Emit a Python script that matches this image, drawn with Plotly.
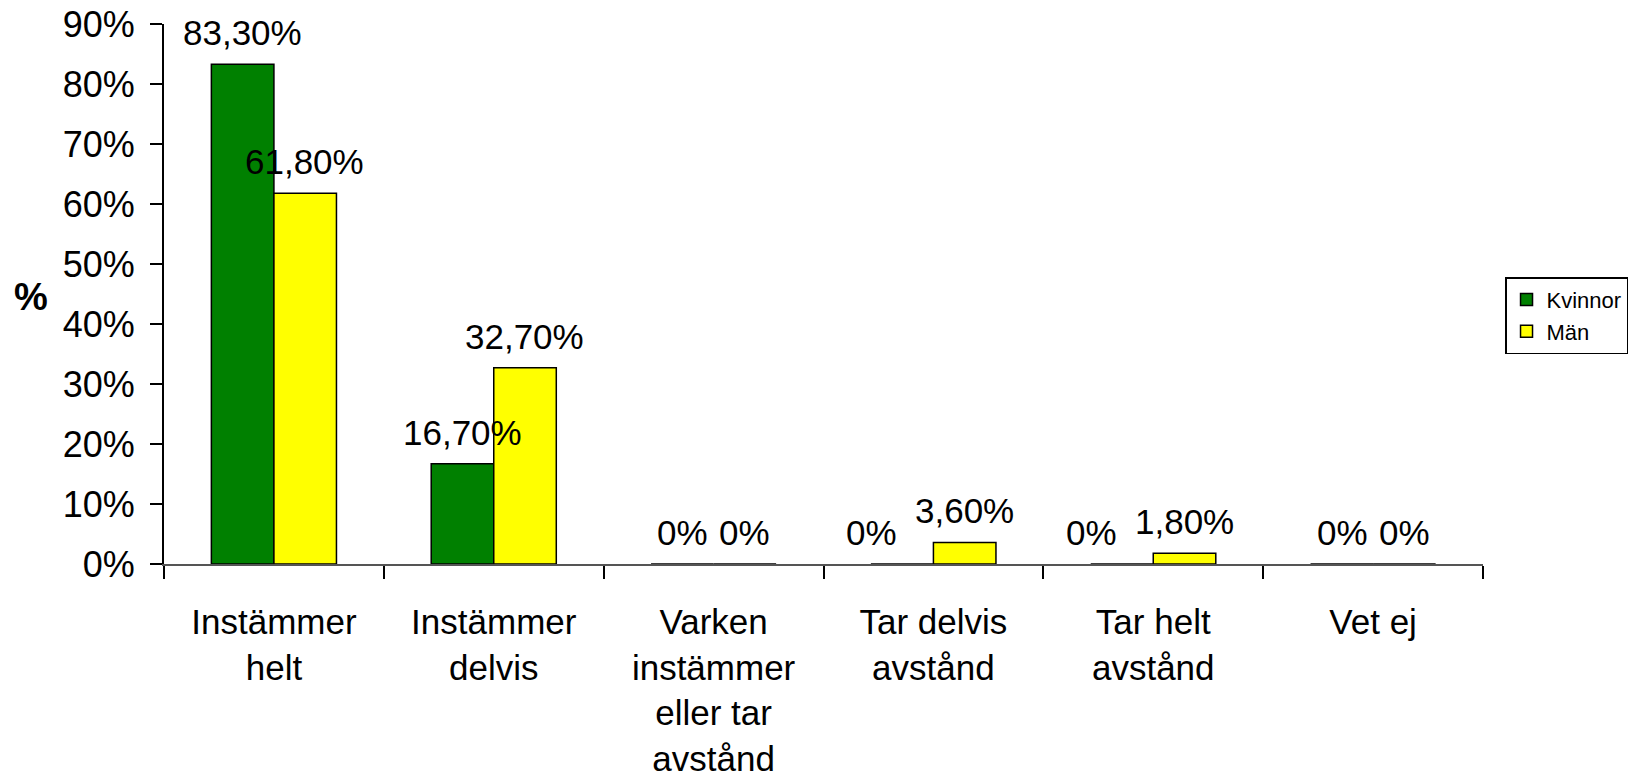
import plotly.graph_objects as pgo

categories = ["Instämmer<br>helt", "Instämmer<br>delvis", "Varken<br>instämmer<br>eller tar<br>avstånd",
              "Tar delvis<br>avstånd", "Tar helt<br>avstånd", "Vet ej"]
kvinnor = [83.3, 16.7, 0, 0, 0, 0]
man = [61.8, 32.7, 0, 3.6, 1.8, 0]
y_ticks = [0, 10, 20, 30, 40, 50, 60, 70, 80, 90]


def label(v):
    if v == 0:
        return "0%"
    return f"{v:.2f}%".replace(".", ",")


font = "Liberation Sans, Arial, sans-serif"

fig = pgo.Figure()
fig.add_trace(pgo.Bar(x=categories, y=kvinnor, name="Kvinnor",
                      marker=dict(color="#008000", line=dict(color="black", width=1.5))))
fig.add_trace(pgo.Bar(x=categories, y=man, name="Män",
                      marker=dict(color="#FFFF00", line=dict(color="black", width=1.5))))

# data labels, placed like Excel does (green zero labels nudged left when crowded)
for i, cat in enumerate(categories):
    for vals, dx in ((kvinnor, -31), (man, 31)):
        shift = dx
        if vals is kvinnor and vals[i] == 0 and man[i] > 0:
            shift = -62
        fig.add_annotation(x=cat, y=vals[i], text=label(vals[i]), showarrow=False,
                           xshift=shift, yshift=10, yanchor="bottom", xanchor="center",
                           font=dict(size=35, color="black", family=font))

fig.add_annotation(text="<b>%</b>", xref="paper", yref="paper", x=-0.1008, y=0.494,
                   xanchor="center", yanchor="middle",
                   showarrow=False, font=dict(size=38, color="black", family=font))

fig.update_layout(
    width=1634, height=777,
    margin=dict(l=164, r=151, t=24, b=213, autoexpand=False),
    paper_bgcolor="white", plot_bgcolor="white",
    barmode="group", bargap=0.431, bargroupgap=0,
    font=dict(family=font, color="black", size=35),
    showlegend=True,
    legend=dict(x=1.0167, y=0.531, xanchor="left", yanchor="top",
                bordercolor="black", borderwidth=1.5, bgcolor="white",
                font=dict(size=22, color="black", family=font),
                itemwidth=30, tracegroupgap=0),
)
fig.update_xaxes(showline=True, linecolor="#555555", linewidth=2, ticks="outside",
                 tickson="boundaries", ticklen=13, tickcolor="black", tickwidth=1.5,
                 showgrid=False, automargin=False, ticklabelstandoff=26,
                 tickfont=dict(size=35, family=font, color="black"))
fig.update_yaxes(range=[0, 90], tickvals=y_ticks, ticktext=[f"{v}%" for v in y_ticks],
                 showline=True, linecolor="black", linewidth=2, ticks="outside", ticklen=12,
                 tickcolor="black", tickwidth=2, showgrid=False, zeroline=False,
                 automargin=False, ticklabelstandoff=8, ticklabeloverflow="allow",
                 tickfont=dict(size=36, family=font, color="black"))

# drop the default 8px page margin so the figure fills the window exactly
fig.write_html("out.html", config={"displayModeBar": False},
               post_script="document.body.style.margin='0';")
